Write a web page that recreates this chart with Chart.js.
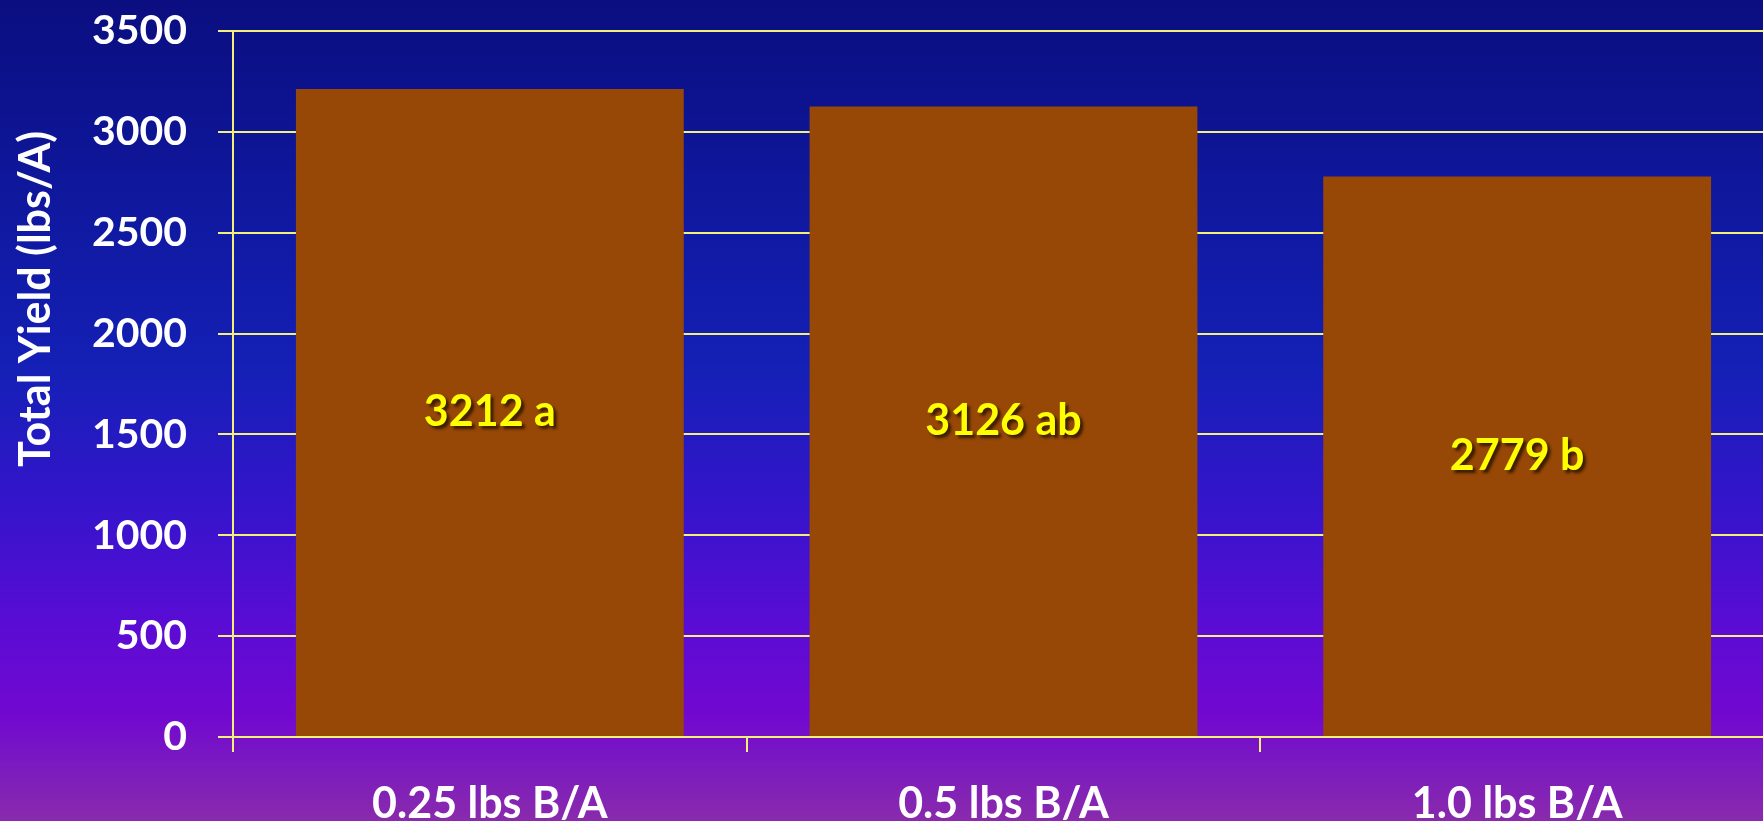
<!DOCTYPE html>
<html>
<head>
<meta charset="utf-8">
<script src="https://cdn.jsdelivr.net/npm/chart.js@4.4.1/dist/chart.umd.min.js"></script>
<style>
  html, body { margin: 0; padding: 0; background: #0a0e80; }
  #wrap { width: 1763px; height: 821px; position: relative; }
</style>
</head>
<body>
<div id="wrap"><canvas id="yield-chart"></canvas></div>
<script>
var rates = ['0.25 lbs B/A', '0.5 lbs B/A', '1.0 lbs B/A'];
var totalYield = [3212, 3126, 2779];
var letters = ['a', 'ab', 'b'];
var yTicks = [0, 500, 1000, 1500, 2000, 2500, 3000, 3500];

var FONT = 'Lato, "Open Sans", sans-serif';
var LINE = '#f2f07a';

// slide-style gradient behind everything
var backdrop = {
  id: 'backdrop',
  beforeDraw: function (chart) {
    var ctx = chart.ctx, h = chart.height;
    var g = ctx.createLinearGradient(0, 0, 0, h);
    g.addColorStop(0, '#0a0e80');
    g.addColorStop(0.45, '#1420b6');
    g.addColorStop(0.62, '#3614cc');
    g.addColorStop(0.76, '#5a0cd4');
    g.addColorStop(0.87, '#7208d0');
    g.addColorStop(0.93, '#7a1ac0');
    g.addColorStop(1, '#8a2aac');
    ctx.save();
    ctx.fillStyle = g;
    ctx.fillRect(0, 0, chart.width, h);
    ctx.restore();
  }
};

// the plot in the slide runs a little past the right edge
var widenPlot = {
  id: 'widenPlot',
  afterLayout: function (chart) {
    var x = chart.scales.x;
    var right = x.left + 1541;
    x.right = right;
    x.width = right - x.left;
    chart.chartArea.right = right;
    chart.chartArea.width = right - chart.chartArea.left;
    x.configure();
  }
};

// "3212 a" style labels in the middle of each bar
var barLabels = {
  id: 'barLabels',
  afterDatasetsDraw: function (chart) {
    var ctx = chart.ctx;
    var meta = chart.getDatasetMeta(0);
    ctx.save();
    ctx.font = 'bold 43px ' + FONT;
    ctx.textAlign = 'center';
    ctx.textBaseline = 'middle';
    ctx.shadowColor = 'rgba(40,20,0,0.85)';
    ctx.shadowOffsetX = 3;
    ctx.shadowOffsetY = 3;
    ctx.shadowBlur = 3;
    ctx.fillStyle = '#ffff00';
    meta.data.forEach(function (bar, i) {
      var mid = (bar.y + bar.base) / 2;
      ctx.fillText(totalYield[i] + ' ' + letters[i], bar.x, mid);
    });
    ctx.restore();
  }
};

// rotated axis title, placed like the original slide
var yTitle = {
  id: 'yTitle',
  afterDraw: function (chart) {
    var ctx = chart.ctx;
    ctx.save();
    ctx.translate(36, 299);
    ctx.rotate(-Math.PI / 2);
    ctx.font = 'bold 43px ' + FONT;
    ctx.fillStyle = '#ffffff';
    ctx.textAlign = 'center';
    ctx.textBaseline = 'middle';
    ctx.fillText('Total Yield (lbs/A)', 0, 0);
    ctx.restore();
  }
};

var ctx = document.getElementById('yield-chart').getContext('2d');
var chart = new Chart(ctx, {
  type: 'bar',
  data: {
    labels: rates,
    datasets: [{
      label: 'Total Yield',
      data: totalYield,
      backgroundColor: '#984806',
      borderWidth: 0,
      categoryPercentage: 1,
      barPercentage: 0.755
    }]
  },
  plugins: [backdrop, widenPlot, barLabels, yTitle],
  options: {
    responsive: true,
    maintainAspectRatio: false,
    animation: false,
    devicePixelRatio: 1,
    layout: { padding: { top: 31, right: 0, bottom: 0, left: 0 } },
    plugins: {
      legend: { display: false },
      tooltip: { enabled: false }
    },
    scales: {
      x: {
        afterFit: function (scale) { scale.height = 84; },
        grid: {
          drawOnChartArea: false,
          drawTicks: true,
          tickLength: 15,
          color: LINE,
          lineWidth: 2,
          offset: true
        },
        border: { display: true, color: LINE, width: 2 },
        ticks: {
          color: '#ffffff',
          padding: 26,
          font: { family: FONT, size: 43, weight: 'bold' }
        }
      },
      y: {
        min: 0,
        max: 3500,
        afterFit: function (scale) {
          scale.width = 233;
          scale.paddingTop = 0;
          scale.paddingBottom = 0;
        },
        afterBuildTicks: function (scale) {
          scale.ticks = yTicks.map(function (v) { return { value: v }; });
        },
        grid: {
          color: LINE,
          lineWidth: 2,
          drawTicks: true,
          tickLength: 15
        },
        border: { display: true, color: LINE, width: 2 },
        ticks: {
          color: '#ffffff',
          padding: 31,
          font: { family: FONT, size: 41, weight: 'bold', lineHeight: 0.8 },
          callback: function (v) { return String(v); }
        }
      }
    }
  }
});
</script>
</body>
</html>
